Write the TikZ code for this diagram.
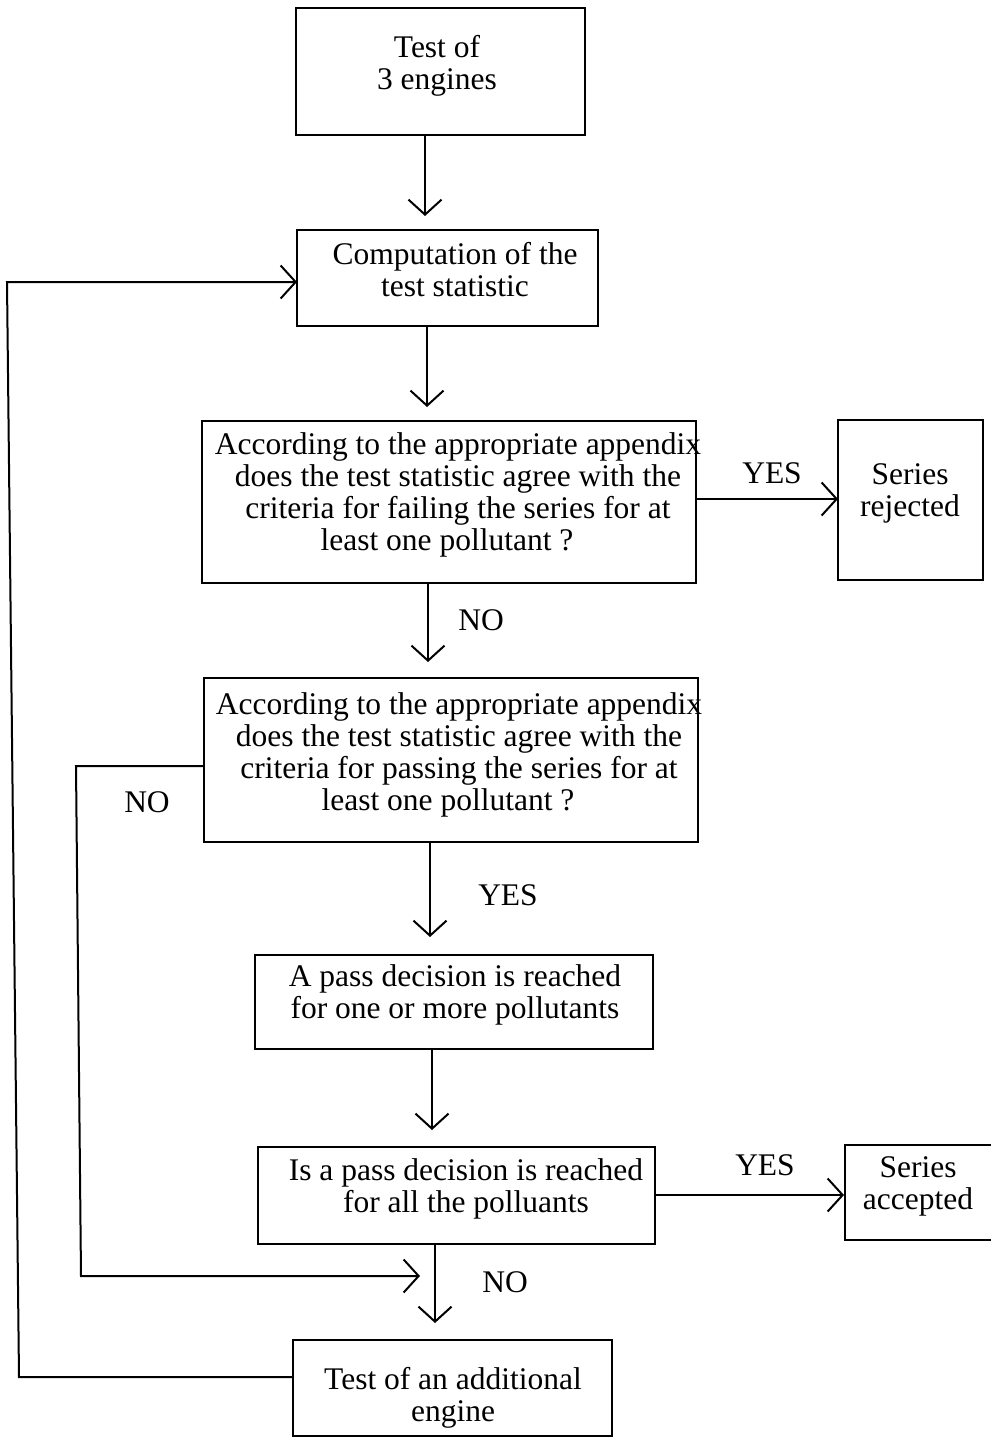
\documentclass[tikz,border=0pt]{standalone}
\usepackage{fontspec}
\setmainfont{Liberation Serif}
\usetikzlibrary{arrows.meta,calc}
\begin{document}
\begin{tikzpicture}[x=1pt,y=-1pt,
  box/.style={draw, line width=2pt, rectangle, inner sep=0pt, outer sep=0pt},
  txt/.style={font=\fontsize{31.5}{32}\selectfont, align=center, inner sep=0pt, anchor=north},
  lbl/.style={font=\fontsize{31.5}{32}\selectfont, inner sep=0pt, anchor=base},
  conn/.style={line width=2pt},
  arr/.style={conn, -{Straight Barb[length=15pt,width=33pt]}}]
\useasboundingbox (0,0) rectangle (990,1439);

% boxes
\node[box, minimum width=289pt, minimum height=127pt] (b1) at (440.5,71.5) {};
\node[box, minimum width=301pt, minimum height=96pt] (b2) at (447.5,278) {};
\node[box, minimum width=494pt, minimum height=162pt] (b3) at (449,502) {};
\node[box, minimum width=145pt, minimum height=160pt] (b4) at (910.5,500) {};
\node[box, minimum width=494pt, minimum height=164pt] (b5) at (451,760) {};
\node[box, minimum width=398pt, minimum height=94pt] (b6) at (454,1002) {};
\node[box, minimum width=397pt, minimum height=97pt] (b7) at (456.5,1195.5) {};
\node[box, minimum width=150pt, minimum height=95pt] (b8) at (920,1192.5) {};
\node[box, minimum width=319pt, minimum height=96pt] (b9) at (452.5,1388) {};

% texts
\node[txt] (t1) at (437,35) {Test of\\3 engines};
\node[txt] (t2) at (455,242) {Computation of the\\test statistic};
\node[txt] (t3) at (458,432) {According to the appropriate appendix\\does the test statistic agree with the\\criteria for failing the series for at\hspace*{12pt}\\least one pollutant ?\hspace*{22pt}};
\node[txt] (t4) at (910,463) {Series\\rejected};
\node[txt] (t5) at (459,692) {According to the appropriate appendix\\does the test statistic agree with the\\criteria for passing the series for at\\least one pollutant ?\hspace*{22pt}};
\node[txt] (t6) at (455,964) {A pass decision is reached\\for one or more pollutants};
\node[txt] (t7) at (466,1158) {Is a pass decision is reached\\for all the polluants};
\node[txt] (t8) at (918,1156) {Series\\accepted};
\node[txt] (t9) at (453,1367) {Test of an additional\\engine};

% labels
\node[lbl] (yes1) at (772,483) {YES};
\node[lbl] (no1) at (481,630) {NO};
\node[lbl] (no2) at (147,812) {NO};
\node[lbl] (yes2) at (508,905) {YES};
\node[lbl] (yes3) at (765,1175) {YES};
\node[lbl] (no3) at (505,1292) {NO};

% helper coordinates
\coordinate (x1) at (425,0);
\coordinate (x2) at (427,0);
\coordinate (x3) at (428,0);
\coordinate (x4) at (430,0);
\coordinate (x5) at (432,0);
\coordinate (x6) at (435,0);
\coordinate (y1) at (0,499);
\coordinate (y2) at (0,1195);
\coordinate (lb) at (19,1377);
\coordinate (lt) at (7,282);
\coordinate (n1) at (76,766);
\coordinate (n2) at (81,1276);
\coordinate (n3) at (420,1276);

% connectors
\draw[arr, shorten >=14pt] (b1.south -| x1) -- (b2.north -| x1);
\draw[arr, shorten >=14pt] (b2.south -| x2) -- (b3.north -| x2);
\draw[arr] (b3.east |- y1) -- (b4.west |- y1);
\draw[arr, shorten >=16pt] (b3.south -| x3) -- (b5.north -| x3);
\draw[arr, shorten >=18pt] (b5.south -| x4) -- (b6.north -| x4);
\draw[arr, shorten >=17pt] (b6.south -| x5) -- (b7.north -| x5);
\draw[arr, shorten >=1pt] (b7.east |- y2) -- (b8.west |- y2);
\draw[arr, shorten >=17pt] (b7.south -| x6) -- (b9.north -| x6);
\draw[arr] (b5.west |- n1) -- (n1) -- (n2) -- (n3);
\draw[arr] (b9.west |- lb) -- (lb) -- (lt) -- (b2.west |- lt);
\end{tikzpicture}
\end{document}
